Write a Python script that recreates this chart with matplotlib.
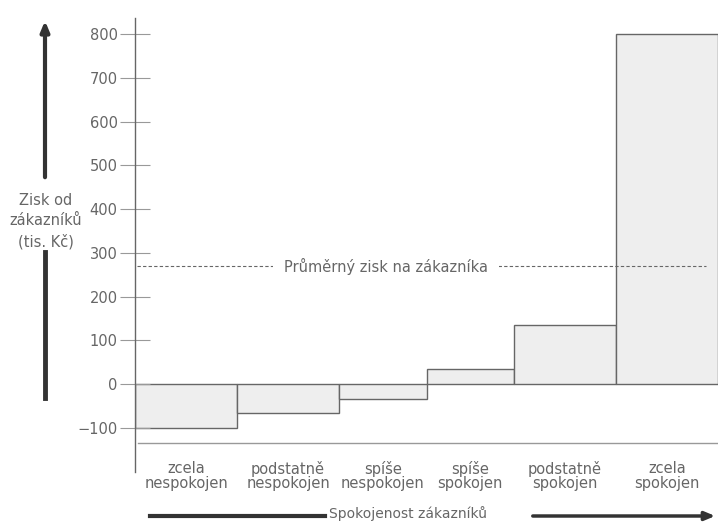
import matplotlib
matplotlib.use("Agg")
import matplotlib.pyplot as plt

plt.rcParams['font.family'] = ['DejaVu Sans']

# data: share of customers (%) and profit per customer group (tis. Kč)
categories = ["zcela\nnespokojen", "podstatně\nnespokojen", "spíše\nnespokojen",
              "spíše\nspokojen", "podstatně\nspokojen", "zcela\nspokojen"]
shares = [17.5, 17.5, 15, 15, 17.5, 17.5]
profits = [-100, -65, -35, 35, 135, 800]
avg_profit = 270
yticks = [-100, 0, 100, 200, 300, 400, 500, 600, 700, 800]

txt = '#666666'
edge = '#666666'
fs = 10.5

W, H = 718, 522
fig = plt.figure(figsize=(W / 100, H / 100), dpi=100)

# axes placed in pixel terms: y axis at x=135, data area from y=18 to y=472
ax = fig.add_axes([135 / W, 1 - 472 / H, 1 - 135 / W, 454 / H])
ax.set_xlim(0, 100)
ax.set_ylim(-201, 837)

lefts = [sum(shares[:i]) for i in range(len(shares))]
ax.bar(lefts, profits, width=shares, align='edge',
       color='#eeeeee', edgecolor=edge, linewidth=1.0)

# average profit line
ax.axhline(avg_profit, xmin=0.003, xmax=0.98, color=edge, lw=0.8,
           ls=(0, (3, 2)))
ax.text(43, avg_profit, "Průměrný zisk na zákazníka", ha='center', va='center',
        fontsize=fs, color=txt,
        bbox=dict(facecolor='white', edgecolor='none', pad=8))

# baseline under the bars
ax.axhline(-135, xmin=0.005, xmax=1, color='#999999', lw=1.0)

# category labels
for l, w, c in zip(lefts, shares, categories):
    ax.text(l + w / 2, -210, c, ha='center', va='center', fontsize=fs,
            color=txt, linespacing=0.95)

for s in ['top', 'right', 'bottom']:
    ax.spines[s].set_visible(False)
ax.spines['left'].set_color(edge)
ax.spines['left'].set_linewidth(1.0)
ax.set_xticks([])
ax.set_yticks(yticks)
ax.set_yticklabels([str(v).replace('-', '\u2212') for v in yticks])
ax.tick_params(axis='y', direction='inout', length=21, width=0.8,
               color='#999999', labelcolor=txt, labelsize=fs, pad=2)

# left vertical arrow with label
def fx(px):
    return px / W

def fy(py):
    return 1 - py / H

fig.add_artist(plt.matplotlib.patches.FancyArrowPatch(
    (fx(45), fy(180)), (fx(45), fy(18)), transform=fig.transFigure,
    arrowstyle='-|>,head_length=6,head_width=2.5', color='#333333', lw=3))
fig.add_artist(plt.Line2D([fx(45), fx(45)], [fy(252), fy(398)],
                          transform=fig.transFigure, color='#333333', lw=3.5))
fig.text(fx(46), fy(221), "Zisk od\nzákazníků\n(tis. Kč)", ha='center',
         va='center', fontsize=fs, color=txt, linespacing=1.45)

# bottom horizontal arrow with label
fig.add_artist(plt.Line2D([fx(150), fx(325)], [fy(516), fy(516)],
                          transform=fig.transFigure, color='#333333', lw=3))
fig.add_artist(plt.matplotlib.patches.FancyArrowPatch(
    (fx(530), fy(516)), (fx(718), fy(516)), transform=fig.transFigure,
    arrowstyle='-|>,head_length=6,head_width=2.5', color='#333333', lw=2.5))
fig.text(fx(408), fy(514), "Spokojenost zákazníků", ha='center',
         va='center', fontsize=10, color=txt)

fig.savefig("out.png", dpi=100)
